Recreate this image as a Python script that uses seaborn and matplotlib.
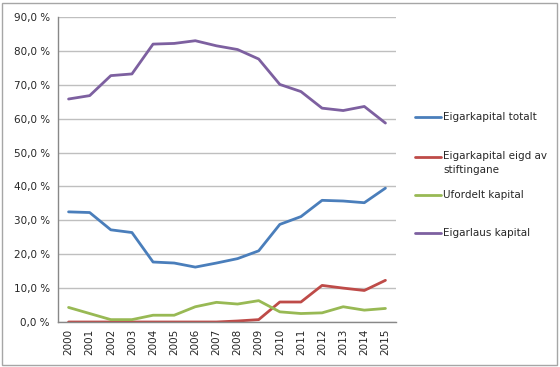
import matplotlib
matplotlib.use("Agg")
import matplotlib.pyplot as plt
import matplotlib.patches as mpatches
from matplotlib.ticker import FixedLocator, FuncFormatter
import seaborn as sns
import pandas as pd

years = list(range(2000, 2016))
totalt = [32.5, 32.3, 27.2, 26.4, 17.7, 17.4, 16.2, 17.4, 18.7, 21.0, 28.8, 31.1, 35.9, 35.7, 35.2, 39.5]
stiftingane = [0.0, 0.0, 0.0, 0.0, 0.0, 0.0, 0.0, 0.0, 0.3, 0.7, 5.9, 5.9, 10.8, 10.0, 9.3, 12.3]
ufordelt = [4.3, 2.5, 0.7, 0.7, 2.0, 2.0, 4.5, 5.8, 5.3, 6.3, 3.0, 2.5, 2.7, 4.5, 3.5, 4.0]
eigarlaus = [65.8, 66.8, 72.7, 73.2, 82.0, 82.2, 83.0, 81.5, 80.4, 77.6, 70.1, 68.0, 63.1, 62.4, 63.6, 58.7]

names = ["Eigarkapital totalt", "Eigarkapital eigd av\nstiftingane",
         "Ufordelt kapital", "Eigarlaus kapital"]
values = [totalt, stiftingane, ufordelt, eigarlaus]
colors = ["#4a7ebb", "#be4b48", "#98b954", "#7d60a0"]

rows = []
for name, vals in zip(names, values):
    for i, (yr, v) in enumerate(zip(years, vals)):
        rows.append({"idx": i, "year": yr, "value": v, "serie": name})
df = pd.DataFrame(rows)

sns.set_style("white")
plt.rcParams["font.family"] = ["DejaVu Sans"]

W, H = 560, 367
fig = plt.figure(figsize=(W / 100, H / 100), dpi=100)
ax = fig.add_axes([58 / W, 1 - 322 / H, (396 - 58) / W, (322 - 17) / H])

sns.lineplot(data=df, x="idx", y="value", hue="serie", hue_order=names,
             palette=colors, linewidth=2.0, ax=ax, legend=False)

ax.set_xlim(-0.5, 15.5)
ax.set_ylim(0, 90)
ax.set_yticks(range(0, 91, 10))
ax.yaxis.set_major_formatter(FuncFormatter(lambda v, p: f"{v:.1f}".replace(".", ",") + " %"))
ax.grid(axis="y", color="#bfbfbf", linewidth=1)
ax.set_axisbelow(True)

# year labels sit between the tick marks, like Excel category axes
ax.set_xticks(range(len(years)))
ax.set_xticklabels([str(y) for y in years], rotation=90, fontsize=7.5)
ax.xaxis.set_minor_locator(FixedLocator([i - 0.5 for i in range(len(years) + 1)]))
ax.tick_params(axis="x", which="major", length=0, pad=5)
ax.tick_params(axis="x", which="minor", length=4, color="#888888", direction="out")
ax.tick_params(axis="y", length=4, color="#888888", direction="out", labelsize=7.5, pad=2)
ax.set_xlabel("")
ax.set_ylabel("")

for s in ["top", "right"]:
    ax.spines[s].set_visible(False)
for s in ["left", "bottom"]:
    ax.spines[s].set_color("#888888")
    ax.spines[s].set_linewidth(1)

# legend drawn by hand: the two-line entry keeps its line at the first row
leg_y = [117, 157, 195, 233]
for name, c, y in zip(names, colors, leg_y):
    fy = 1 - y / H
    fig.lines.append(plt.Line2D([415 / W, 441 / W], [fy, fy], color=c, linewidth=2,
                                transform=fig.transFigure))
    if "\n" in name:
        fig.text(443 / W, 1 - (y - 6) / H, name, fontsize=7.5, va="top",
                 ha="left", linespacing=1.45)
    else:
        fig.text(443 / W, fy, name, fontsize=7.5, va="center", ha="left")

fig.patches.append(mpatches.Rectangle((2 / W, 2 / H), 555 / W, 362 / H,
                                      transform=fig.transFigure, fill=False,
                                      edgecolor="#a6a6a6", linewidth=1))

fig.savefig("out.png", dpi=100)
